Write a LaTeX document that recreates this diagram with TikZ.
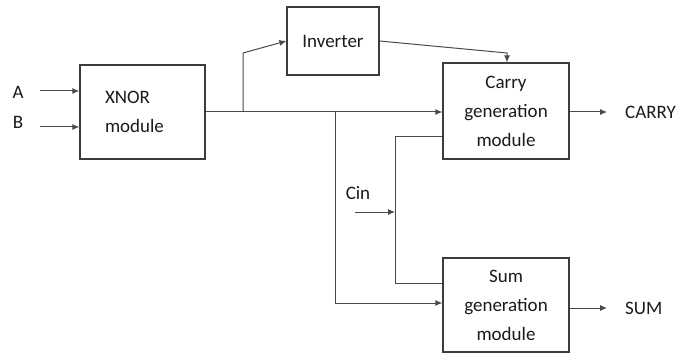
\documentclass[tikz,border=0pt]{standalone}
\usepackage{fontspec}
\setmainfont{Carlito}
\usetikzlibrary{arrows.meta}
\definecolor{boxline}{HTML}{3C3C3C}
\definecolor{wire}{HTML}{4A4A4A}
\definecolor{txt}{HTML}{1A1A1A}
\begin{document}
\begin{tikzpicture}[x=1pt,y=-1pt,
  font=\fontsize{19}{29}\selectfont,
  every node/.style={text=txt},
  blk/.style={draw=boxline,line width=1.2pt,align=center,inner sep=0pt},
  wire/.style={draw=wire,line width=1pt},
  arr/.style={wire,-{Latex[length=7pt,width=6pt]}}
]
\useasboundingbox (0,0) rectangle (692,358);
% blocks
\node[blk,minimum width=125,minimum height=94,text width=75,inner xsep=25pt,align=left] (xnor) at (142.5,112) {XNOR\\module};
\node[blk,minimum width=92,minimum height=68] (inv) at (333,41) {Inverter};
\node[blk,minimum width=126,minimum height=96] (carry) at (506,111) {Carry\\generation\\module};
\node[blk,minimum width=126,minimum height=94] (sum) at (506,305) {Sum\\generation\\module};
% labels
\node (la) at (18,92) {A};
\node (lb) at (18,122) {B};
\node (lcin) at (358,193) {Cin};
\node[anchor=west,inner sep=0pt] (lcarry) at (625,112) {CARRY};
\node[anchor=west,inner sep=0pt] (lsum) at (625,308) {SUM};
% coordinates
\coordinate (ain) at (40,91);
\coordinate (bin) at (40,127);
\coordinate (br1) at (243,112);
\coordinate (br1t) at (243,53);
\coordinate (invk) at (507,53);
\coordinate (br2) at (335,112);
\coordinate (br2b) at (335,303);
\coordinate (fbt) at (395,137);
\coordinate (fbb) at (395,283);
\coordinate (cinin) at (355,212);
\coordinate (cinj) at (395,212);
\coordinate (cout) at (607,112);
\coordinate (sout) at (607,308);
% wires
\draw[arr] (ain) -- (ain -| xnor.west);
\draw[arr] (bin) -- (bin -| xnor.west);
\draw[arr] (br1 -| xnor.east) -- (br1 -| carry.west);
\draw[arr] (br1) -- (br1t) -- (inv.west);
\draw[arr] (inv.east) -- (invk) -- (invk |- carry.north);
\draw[arr] (br2) -- (br2b) -- (br2b -| sum.west);
\draw[wire] (fbt -| carry.west) -- (fbt) -- (fbb) -- (fbb -| sum.west);
\draw[arr] (cinin) -- (cinj);
\draw[arr] (cout -| carry.east) -- (cout);
\draw[arr] (sout -| sum.east) -- (sout);
\end{tikzpicture}
\end{document}
